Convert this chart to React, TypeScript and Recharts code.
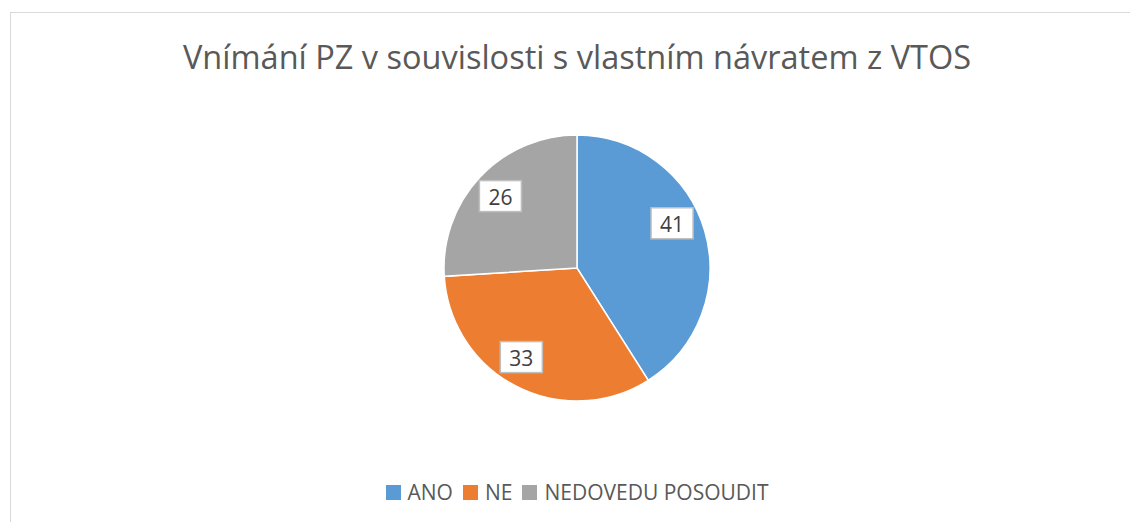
import React from 'react';
import { PieChart, Pie, Cell, Legend } from 'recharts';

const categories = ['ANO', 'NE', 'NEDOVEDU POSOUDIT'];
const values = [41, 33, 26];
const colors = ['#5B9BD5', '#ED7D31', '#A5A5A5'];

const data = categories.map((name, i) => ({ name, value: values[i] }));

const FONT = '"Open Sans", "Noto Sans", sans-serif';
const RAD = Math.PI / 180;
// small angular nudge per label (Excel "best fit" does not sit exactly on the mid angle)
const labelNudge = [9, -5, 0];

const renderLabel = (props: any) => {
  const { cx, cy, midAngle, outerRadius, value, index } = props;
  const r = outerRadius * 0.79;
  const a = (midAngle + (labelNudge[index] || 0)) * RAD;
  const x = cx + r * Math.cos(-a);
  const y = cy + r * Math.sin(-a);
  const w = 42;
  const h = 31;
  return (
    <g>
      <rect x={x - w / 2} y={y - h / 2} width={w} height={h} fill="#fff" stroke="#BFBFBF" strokeWidth={1.5} />
      <text x={x} y={y + 1} textAnchor="middle" dominantBaseline="central" fill="#404040" fontSize={21} fontFamily={FONT}>
        {value}
      </text>
    </g>
  );
};

const renderLegend = () => (
  <div style={{ display: 'flex', justifyContent: 'center', alignItems: 'center', fontFamily: FONT, fontSize: 21, color: '#595959' }}>
    {categories.map((c, i) => (
      <div key={c} style={{ display: 'flex', alignItems: 'center', marginRight: i < categories.length - 1 ? 10 : 0 }}>
        <span style={{ width: 15, height: 15, background: colors[i], display: 'inline-block', marginRight: 7 }} />
        <span>{c}</span>
      </div>
    ))}
  </div>
);

export default function App() {
  return (
    <div style={{ position: 'absolute', left: 0, top: 0, width: 1130, height: 522, background: '#fff', overflow: 'hidden' }}>
      <div style={{ position: 'absolute', left: 10, top: 12, width: 1134, height: 540, border: '1.5px solid #D9D9D9', boxSizing: 'border-box' }} />
      <div style={{ position: 'absolute', left: 10, top: 34, width: 1134, textAlign: 'center', fontFamily: FONT, fontSize: 32.5, color: '#595959' }}>
        Vnímání PZ v souvislosti s vlastním návratem z VTOS
      </div>
      <div style={{ position: 'absolute', left: 0, top: 0 }}>
        <PieChart width={1154} height={522} margin={{ top: 0, right: 0, bottom: 0, left: 0 }}>
          <Pie
            data={data}
            dataKey="value"
            nameKey="name"
            cx={577}
            cy={268}
            outerRadius={133}
            startAngle={90}
            endAngle={-270}
            stroke="#fff"
            strokeWidth={1.5}
            label={renderLabel}
            labelLine={false}
            isAnimationActive={false}
          >
            {data.map((d, i) => (
              <Cell key={d.name} fill={colors[i]} />
            ))}
          </Pie>
          <Legend content={renderLegend} verticalAlign="bottom" wrapperStyle={{ bottom: 16 }} />
        </PieChart>
      </div>
    </div>
  );
}
